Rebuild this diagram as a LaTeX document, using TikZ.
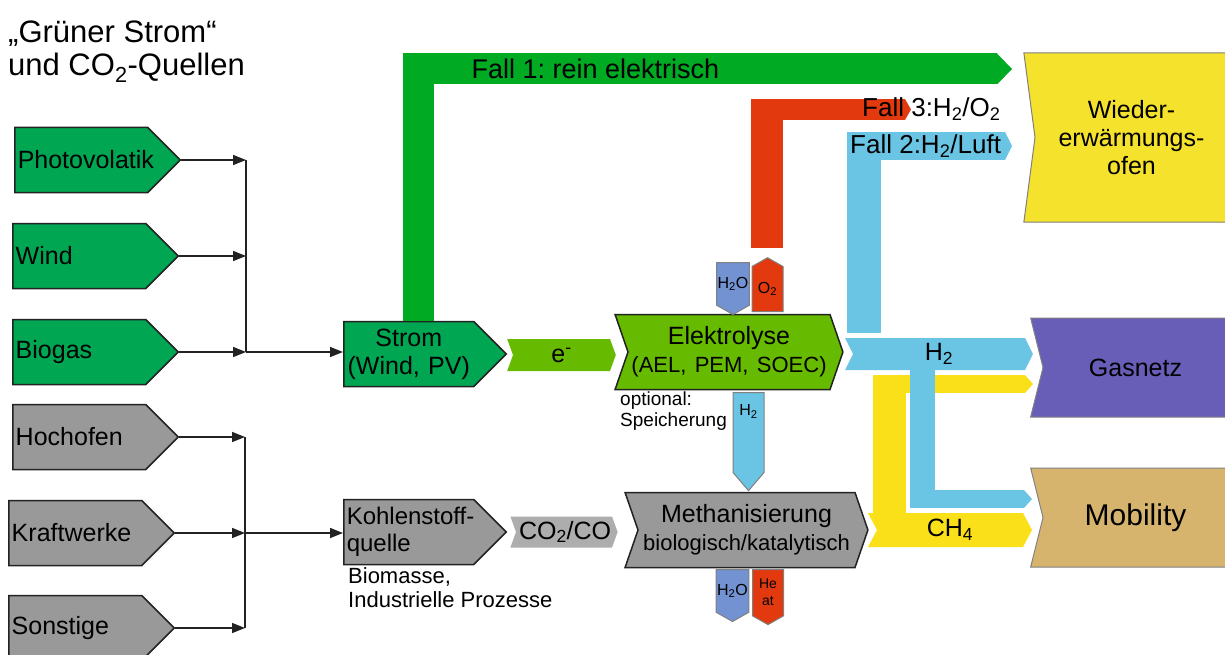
\documentclass[tikz,border=0pt]{standalone}
\usepackage{fontspec}
\setmainfont{Liberation Sans}
\usetikzlibrary{shapes.symbols,arrows.meta,calc}
\definecolor{ptgsrc}{RGB}{0,166,81}
\definecolor{ptgfall}{RGB}{0,170,34}
\definecolor{ptglime}{RGB}{102,187,0}
\definecolor{ptggrey}{RGB}{153,153,153}
\definecolor{ptgred}{RGB}{226,58,14}
\definecolor{ptgsky}{RGB}{106,196,228}
\definecolor{ptgwater}{RGB}{114,146,210}
\definecolor{ptgyellow}{RGB}{249,224,24}
\definecolor{ptgofen}{RGB}{245,226,45}
\definecolor{ptgnet}{RGB}{104,94,184}
\definecolor{ptgtan}{RGB}{214,180,110}
\definecolor{ptgink}{RGB}{34,34,34}
\definecolor{ptgline}{RGB}{128,128,128}

\begin{document}
\frenchspacing
\begin{tikzpicture}[x=1pt,y=-1pt,
  font=\fontsize{25}{28}\selectfont,
  src/.style={signal,signal to=east,draw=ptgink,line width=1.5pt,fill=ptgsrc,minimum height=65pt,text width=127pt,inner xsep=3pt,align=left,anchor=west},
  proc/.style={signal,signal to=east,draw=ptgink,line width=1.5pt,minimum height=65pt,text width=124pt,inner xsep=3pt,align=center,anchor=west},
  stage/.style={signal,signal from=west,signal to=east,signal pointer angle=142,draw=ptgink,line width=1.5pt,minimum height=75pt,inner xsep=3pt,align=center},
  chev/.style={signal,signal from=west,signal to=east,inner xsep=3pt,inner ysep=0pt,align=center},
  sink/.style={signal,signal from=west,signal to=nowhere,draw=ptgline,line width=1pt,inner xsep=3pt,align=center},
  tab/.style={signal,draw=ptgline,line width=1pt,inner sep=1pt,minimum width=31pt,font=\fontsize{16}{17}\selectfont,align=center},
  feed/.style={draw=ptgink,line width=1.5pt,-{Triangle[length=13pt,width=10pt]}},
  bus/.style={draw=ptgink,line width=1.5pt},
  bandtip/.style 2 args={-{Triangle[length=#1,width=#2,line width=0pt]}},
  note/.style={align=left,inner sep=1pt}]

\useasboundingbox (0,0) rectangle (1225,655);

% ================= SOURCES =================
\node[font=\fontsize{31}{33}\selectfont,align=left,anchor=north west,inner sep=0pt] (title) at (8,21) {„Grüner Strom“\\und CO\textsubscript{2}-Quellen};

\node[src] (pv) at (14,160) {Photovolatik};
\node[src] (wind) at (12,256) {Wind};
\node[src] (biogas) at (12,352) {Biogas};
\node[src,fill=ptggrey] (hochofen) at (12,437) {Hochofen};
\node[src,fill=ptggrey] (kraftwerk) at (8,533) {Kraftwerke};
\node[src,fill=ptggrey] (sonstige) at (8,628) {Sonstige};

\coordinate (busG) at (246,0);
\coordinate (busC) at (245,0);
\draw[feed] (pv.east) -- (pv.east -| busG);
\draw[feed] (wind.east) -- (wind.east -| busG);
\draw[feed] (biogas.east) -- (biogas.east -| busG);
\draw[bus] (pv.east -| busG) -- (biogas.east -| busG);
\draw[feed] (hochofen.east) -- (hochofen.east -| busC);
\draw[feed] (kraftwerk.east) -- (kraftwerk.east -| busC);
\draw[feed] (sonstige.east) -- (sonstige.east -| busC);
\draw[bus] (hochofen.east -| busC) -- (sonstige.east -| busC);

% ================= CONVERSION CHAIN =================
\node[proc,fill=ptgsrc] (strom) at (343,354) {Strom\\(Wind, PV)};
\node[proc,fill=ptggrey,align=left,font=\fontsize{24}{27}\selectfont] (kohle) at (343,532) {\mbox{Kohlenstoff-}\\quelle};
\draw[feed] (biogas.east -| busG) -- (biogas.east -| strom.west);
\draw[feed] (kraftwerk.east -| busC) -- (kraftwerk.east -| kohle.west);
\node[note,font=\fontsize{22}{24}\selectfont,anchor=north west] (biomasse) at (347,566) {Biomasse,\\Industrielle Prozesse};

\node[chev,fill=ptglime,signal pointer angle=140,minimum height=32pt,text width=91pt] (elec) at (561.5,355) {e\textsuperscript{-}};
\node[chev,fill=ptggrey!80,signal pointer angle=140,minimum height=31pt,text width=90pt] (co) at (564,532) {CO\textsubscript{2}/CO};

\node[stage,fill=ptglime,text width=196pt] (elektro) at (729,352) {Elektrolyse\\{\fontsize{22}{26}\selectfont(AEL, PEM, SOEC)}};
\node[stage,fill=ptggrey,text width=211pt] (metha) at (746.5,530) {Methanisierung\\{\fontsize{22}{26}\selectfont biologisch/katalytisch}};
\node[note,font=\fontsize{19}{21}\selectfont,anchor=north west] (speicher) at (619,391) {optional:\\Speicherung};

% small in/out tabs
\node[tab,fill=ptgwater,signal to=south,signal pointer angle=121,minimum height=52pt,anchor=north] (h2oin) at (733,262) {H\textsubscript{2}O};
\node[tab,fill=ptgred,signal to=north,signal pointer angle=121,minimum height=51pt,anchor=south] (o2) at (767.5,312) {O\textsubscript{2}};
\node[tab,fill=ptgsky,signal to=south,signal pointer angle=81,text height=22pt,text depth=56pt,anchor=north] (h2dn) at (748.5,392) {H\textsubscript{2}};
\node[tab,fill=ptgwater,signal to=south,signal pointer angle=121,minimum height=52pt,anchor=north] (h2oout) at (732.5,569) {H\textsubscript{2}O};
\node[tab,fill=ptgred,signal to=south,signal pointer angle=121,minimum height=52pt,anchor=north,font=\fontsize{14}{17}\selectfont] (heat) at (768,569) {He\\at};

% ================= SINKS =================
\node[sink,fill=ptgofen,signal pointer angle=165,minimum height=169pt,text width=187pt] (ofen) at (1131.5,137.5) {Wieder-\\erwärmungs-\\ofen};
\node[sink,fill=ptgnet,signal pointer angle=152,minimum height=99pt,text width=179pt] (gasnetz) at (1135.5,367.5) {Gasnetz};
\node[sink,fill=ptgtan,signal pointer angle=152,minimum height=99pt,text width=179pt,font=\fontsize{30}{33}\selectfont] (mobil) at (1135.5,517.5) {Mobility};

\node[chev,fill=ptgsky,signal pointer angle=127,minimum height=32pt,text width=166pt] (h2) at (939,354) {H\textsubscript{2}};
\node[chev,fill=ptgyellow,signal pointer angle=124,minimum height=34pt,text width=140pt] (ch4) at (950,530) {CH\textsubscript{4}};

% ================= FLOW BANDS =================
\coordinate (fall1tip) at (1012,69);
\coordinate (fall3foot) at (767,248);
\coordinate (fall3tip) at (911,109.5);
\coordinate (fall2foot) at (864,333);
\coordinate (fall2tip) at (1012,146);
\coordinate (gastip) at (1033,384);
\coordinate (mobknee) at (922.5,508);
\coordinate (mobtip) at (1032,499);

% Fall 1
\draw[ptgfall,line width=31pt,bandtip={15pt}{31pt}] ([xshift=10pt]strom.north) |- (fall1tip);
\node[anchor=west,font=\fontsize{27}{30}\selectfont] (fall1) at (468,69) {Fall 1: rein elektrisch};
% Fall 3
\draw[ptgred,line width=32pt] (fall3foot) -- (fall3foot |- 0,99);
\draw[ptgred,line width=21pt,bandtip={6pt}{21pt}] (fall3foot |- fall3tip) ++(-16,0) -- (fall3tip);
\node[anchor=west,inner sep=0pt,font=\fontsize{26}{28}\selectfont] (fall3) at (862,109) {Fall 3:H\textsubscript{2}/O\textsubscript{2}};
% Fall 2
\draw[ptgsky,line width=34pt] (fall2foot) -- (fall2foot |- 0,132);
\draw[ptgsky,line width=28pt,bandtip={7pt}{28pt}] (fall2foot |- fall2tip) ++(-17,0) -- (fall2tip);
\node[anchor=west,inner sep=0pt,font=\fontsize{26}{28}\selectfont] (fall2) at (850,146) {Fall 2:H\textsubscript{2}/Luft};
% methane to grid and mobility
\draw[ptgyellow,line width=33pt] (889.5,375) -- (ch4.north -| 889.5,0);
\draw[ptgyellow,line width=18pt,bandtip={8pt}{18pt}] (873,384) -- (gastip);
% hydrogen to mobility
\draw[ptgsky,line width=25pt] (h2.south -| mobknee) -- (mobknee);
\draw[ptgsky,line width=18pt,bandtip={8pt}{18pt}] (mobknee |- mobtip) ++(-12.5,0) -- (mobtip);
\end{tikzpicture}
\end{document}
